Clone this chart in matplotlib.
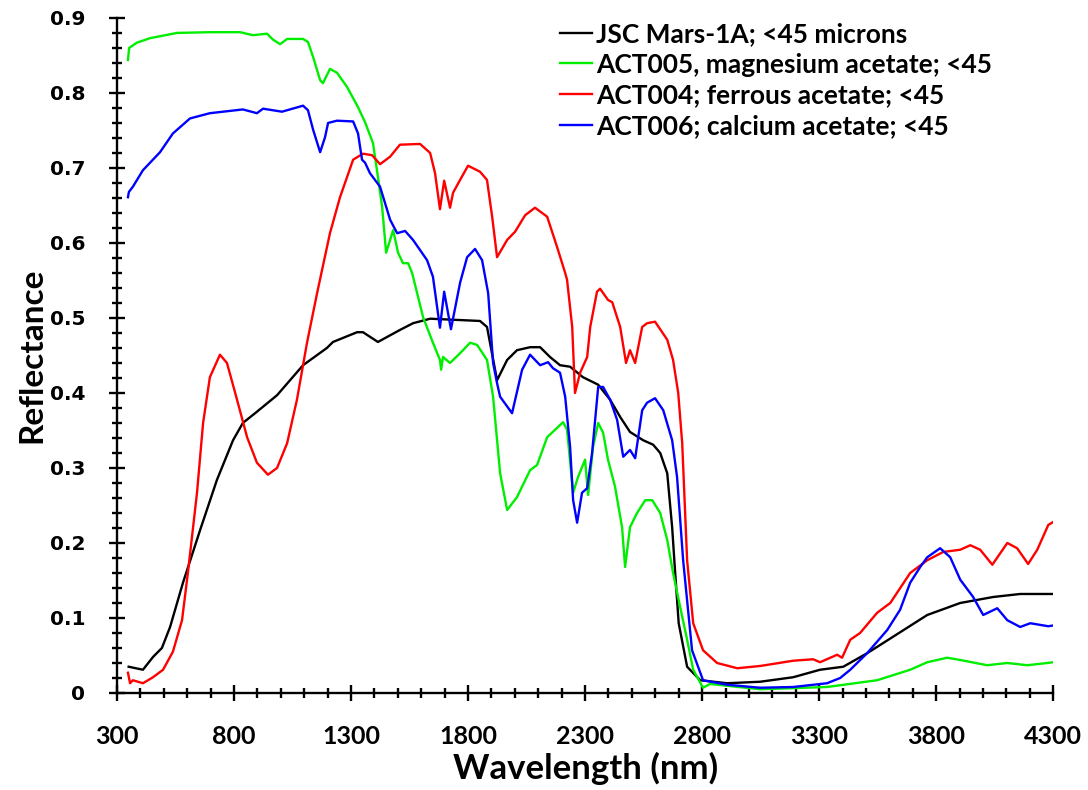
import numpy as np
import matplotlib
matplotlib.use('Agg')
import matplotlib.pyplot as plt
from matplotlib.ticker import MultipleLocator, FixedLocator

# JSC Mars-1A
jsc_nm = [350, 411, 454, 492, 527, 582, 655, 727, 796, 838, 898, 984, 1095, 1197, 1223, 1326, 1351, 1415,
          1509, 1565, 1638, 1851, 1881, 1924, 1967, 2009, 2065, 2108, 2150, 2193, 2236, 2291, 2356, 2407,
          2450, 2492, 2548, 2591, 2621, 2651, 2672, 2685, 2700, 2736, 2792, 2907, 3048, 3189, 3304, 3403,
          3505, 3616, 3762, 3903, 4044, 4159, 4275, 4300]
jsc_r = [0.035, 0.031, 0.048, 0.060, 0.088, 0.147, 0.217, 0.284, 0.337, 0.360, 0.375, 0.397, 0.437, 0.460,
         0.468, 0.481, 0.481, 0.468, 0.484, 0.493, 0.499, 0.496, 0.488, 0.417, 0.444, 0.457, 0.461, 0.461,
         0.448, 0.437, 0.435, 0.421, 0.411, 0.391, 0.368, 0.348, 0.337, 0.331, 0.320, 0.293, 0.221, 0.160,
         0.093, 0.035, 0.017, 0.013, 0.015, 0.021, 0.031, 0.035, 0.053, 0.075, 0.104, 0.120, 0.128, 0.132,
         0.132, 0.132]

# ACT005 magnesium acetate
mg_nm = [347, 352, 385, 441, 556, 697, 826, 881, 941, 967, 997, 1027, 1095, 1116, 1138, 1168, 1180, 1210,
         1240, 1283, 1330, 1360, 1394, 1415, 1433, 1450, 1467, 1480, 1501, 1522, 1544, 1561, 1608, 1650,
         1680, 1685, 1693, 1723, 1766, 1809, 1839, 1881, 1907, 1937, 1967, 2009, 2065, 2095, 2138, 2206,
         2223, 2249, 2270, 2300, 2313, 2334, 2356, 2377, 2398, 2428, 2458, 2471, 2492, 2522, 2557, 2587,
         2621, 2651, 2676, 2706, 2736, 2762, 2804, 2834, 3048, 3334, 3548, 3689, 3762, 3847, 3903, 4018,
         4104, 4189, 4275, 4300]
mg_r = [0.844, 0.860, 0.867, 0.873, 0.880, 0.881, 0.881, 0.877, 0.879, 0.871, 0.865, 0.872, 0.872, 0.868,
        0.848, 0.817, 0.813, 0.832, 0.827, 0.808, 0.781, 0.761, 0.733, 0.688, 0.648, 0.587, 0.604, 0.617,
        0.587, 0.573, 0.573, 0.560, 0.501, 0.467, 0.444, 0.431, 0.448, 0.440, 0.453, 0.467, 0.464, 0.444,
        0.395, 0.293, 0.244, 0.261, 0.297, 0.304, 0.341, 0.361, 0.351, 0.267, 0.288, 0.311, 0.264, 0.328,
        0.360, 0.347, 0.311, 0.275, 0.221, 0.168, 0.221, 0.240, 0.257, 0.257, 0.240, 0.204, 0.160, 0.115,
        0.071, 0.031, 0.007, 0.012, 0.005, 0.008, 0.017, 0.031, 0.041, 0.047, 0.044, 0.037, 0.040, 0.037,
        0.040, 0.041]

# ACT004 ferrous acetate
fe_nm = [347, 356, 368, 411, 454, 497, 539, 578, 603, 642, 668, 697, 740, 770, 813, 856, 898, 945, 984,
         1027, 1069, 1112, 1155, 1210, 1253, 1309, 1351, 1390, 1424, 1467, 1509, 1595, 1638, 1659, 1680,
         1698, 1723, 1736, 1766, 1800, 1851, 1881, 1903, 1924, 1967, 2001, 2044, 2086, 2138, 2180, 2215,
         2223, 2245, 2257, 2279, 2309, 2322, 2351, 2364, 2398, 2416, 2450, 2475, 2492, 2514, 2544, 2565,
         2599, 2651, 2676, 2698, 2715, 2736, 2762, 2804, 2864, 2950, 3048, 3189, 3274, 3304, 3377, 3398,
         3433, 3475, 3548, 3604, 3689, 3762, 3830, 3903, 3946, 3988, 4040, 4104, 4146, 4193, 4232, 4279, 4300]
fe_r = [0.027, 0.013, 0.017, 0.013, 0.021, 0.031, 0.055, 0.097, 0.160, 0.267, 0.360, 0.421, 0.451, 0.440,
        0.391, 0.341, 0.307, 0.291, 0.300, 0.333, 0.391, 0.467, 0.533, 0.613, 0.661, 0.711, 0.719, 0.717,
        0.705, 0.715, 0.731, 0.732, 0.720, 0.693, 0.645, 0.683, 0.647, 0.667, 0.684, 0.703, 0.695, 0.684,
        0.635, 0.581, 0.604, 0.615, 0.637, 0.647, 0.635, 0.595, 0.560, 0.551, 0.488, 0.400, 0.427, 0.448,
        0.488, 0.535, 0.539, 0.524, 0.521, 0.488, 0.440, 0.457, 0.440, 0.488, 0.493, 0.495, 0.471, 0.444,
        0.400, 0.333, 0.177, 0.093, 0.057, 0.040, 0.033, 0.036, 0.043, 0.045, 0.041, 0.051, 0.047, 0.071,
        0.080, 0.107, 0.120, 0.160, 0.177, 0.188, 0.191, 0.197, 0.191, 0.171, 0.200, 0.193, 0.172, 0.191,
        0.224, 0.228]

# ACT006 calcium acetate
ca_nm = [347, 351, 368, 411, 484, 539, 612, 697, 838, 898, 924, 1005, 1095, 1116, 1138, 1168, 1189, 1202,
         1240, 1309, 1330, 1347, 1360, 1381, 1424, 1467, 1497, 1531, 1565, 1625, 1650, 1680, 1698, 1727,
         1766, 1796, 1830, 1860, 1886, 1907, 1924, 1937, 1988, 2031, 2065, 2108, 2142, 2163, 2193, 2215,
         2236, 2249, 2266, 2287, 2309, 2330, 2356, 2377, 2407, 2437, 2463, 2492, 2514, 2544, 2565, 2599,
         2634, 2672, 2693, 2719, 2757, 2804, 2907, 3048, 3189, 3334, 3390, 3433, 3505, 3591, 3646, 3689,
         3732, 3762, 3817, 3860, 3903, 3958, 4001, 4061, 4104, 4159, 4202, 4279, 4300]
ca_r = [0.661, 0.668, 0.675, 0.697, 0.721, 0.746, 0.766, 0.773, 0.778, 0.773, 0.779, 0.775, 0.783, 0.777,
        0.751, 0.721, 0.741, 0.760, 0.763, 0.762, 0.746, 0.711, 0.707, 0.693, 0.675, 0.631, 0.613, 0.616,
        0.604, 0.577, 0.555, 0.487, 0.535, 0.485, 0.547, 0.581, 0.592, 0.577, 0.533, 0.440, 0.413, 0.395,
        0.373, 0.431, 0.451, 0.437, 0.441, 0.433, 0.427, 0.395, 0.328, 0.257, 0.227, 0.267, 0.273, 0.320,
        0.408, 0.408, 0.391, 0.364, 0.315, 0.324, 0.313, 0.377, 0.387, 0.393, 0.377, 0.337, 0.288, 0.177,
        0.057, 0.017, 0.011, 0.007, 0.008, 0.013, 0.020, 0.031, 0.053, 0.084, 0.111, 0.147, 0.168, 0.181,
        0.193, 0.181, 0.151, 0.128, 0.104, 0.113, 0.097, 0.088, 0.093, 0.089, 0.090]

labels = ['JSC Mars-1A; <45 microns', 'ACT005, magnesium acetate; <45',
          'ACT004; ferrous acetate; <45', 'ACT006; calcium acetate; <45']
colors = ['#000000', '#00ee00', '#ff0000', '#0000ff']
xticks = [300, 800, 1300, 1800, 2300, 2800, 3300, 3800, 4300]

fig = plt.figure(figsize=(10.88, 7.9), dpi=100)
ax = fig.add_axes([0.1075, 0.1228, 0.8605, 0.8545])

series = [(jsc_nm, jsc_r), (mg_nm, mg_r), (fe_nm, fe_r), (ca_nm, ca_r)]
for (x, y), lab, c in zip(series, labels, colors):
    ax.plot(x, y, color=c, lw=1.7, label=lab)

ax.set_xlim(300, 4300)
ax.set_ylim(0, 0.9)
ax.xaxis.set_major_locator(FixedLocator(xticks))
ax.xaxis.set_minor_locator(MultipleLocator(100))
ax.yaxis.set_major_locator(MultipleLocator(0.1))
ax.yaxis.set_minor_locator(MultipleLocator(0.02))
ax.yaxis.set_major_formatter(plt.FuncFormatter(lambda v, p: '0' if abs(v) < 1e-9 else '%.1f' % v))

for s in ['top', 'right']:
    ax.spines[s].set_visible(False)
for s in ['left', 'bottom']:
    ax.spines[s].set_linewidth(1.7)

ax.tick_params(which='major', direction='inout', length=12, width=1.7)
ax.tick_params(which='minor', direction='inout', length=7, width=1.7)
ax.tick_params(axis='x', which='major', pad=17)
ax.tick_params(axis='y', which='major', pad=17)

for t in ax.get_xticklabels():
    t.set_fontfamily('Lato')
    t.set_fontweight('bold')
    t.set_fontsize(18)
for t in ax.get_yticklabels():
    t.set_fontfamily('DejaVu Sans')
    t.set_fontweight('bold')
    t.set_fontsize(14.5)

ax.set_xlabel('Wavelength (nm)', fontfamily='Lato', fontweight='bold', fontsize=25, labelpad=3)
ax.set_ylabel('Reflectance', fontfamily='Lato', fontweight='bold', fontsize=24, labelpad=2)

leg = ax.legend(loc='upper right', bbox_to_anchor=(0.946, 1.01), frameon=False,
                prop={'family': 'Lato', 'weight': 'bold', 'size': 19}, handlelength=1.2,
                handletextpad=0.15, labelspacing=0.26, borderaxespad=0)

fig.savefig('out.png', dpi=100)
